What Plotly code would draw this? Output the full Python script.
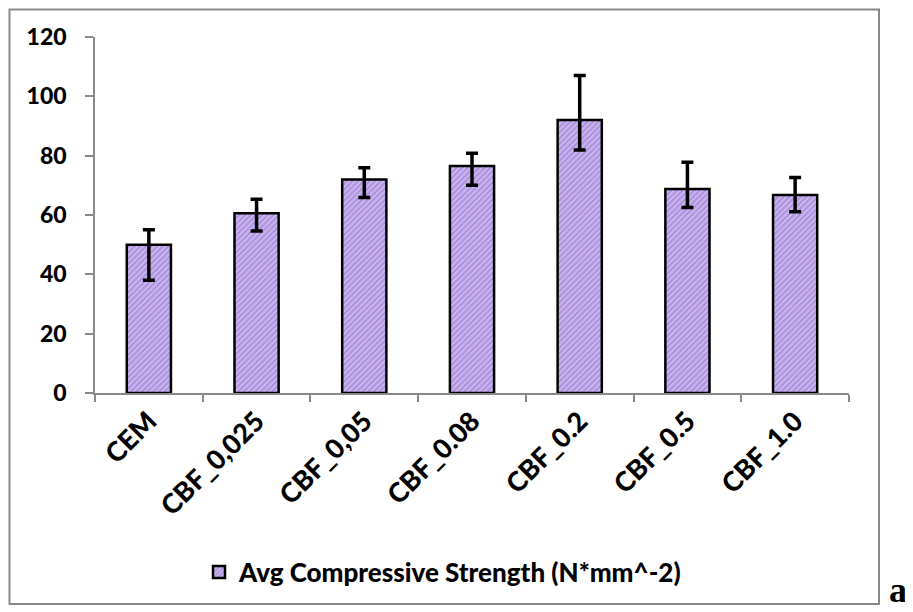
import plotly.graph_objects as go

categories = ["CEM", "CBF_0,025", "CBF_0,05", "CBF_0.08", "CBF_0.2", "CBF_0.5", "CBF_1.0"]
avg_strength = [50.0, 60.6, 72.0, 76.5, 92.0, 68.8, 66.7]
err_plus = [5.0, 4.7, 3.9, 4.3, 15.0, 9.0, 5.9]
err_minus = [12.0, 6.0, 6.1, 6.5, 10.1, 6.3, 5.6]
y_ticks = [0, 20, 40, 60, 80, 100, 120]
series_name = "Avg Compressive Strength (N*mm^-2)"

# page has an 8px body margin; work in figure pixels = page pixels - 8
OFF = 8
W, H = 913 - OFF, 612 - OFF
L, R, T, B = 95 - OFF, 849 - OFF, 37 - OFF, 393 - OFF

def px_x(p):
    return (p - OFF - L) / (R - L)

def px_y(p):
    return (B - (p - OFF)) / (B - T)

FONT = "Lato"
WEIGHT = 900

fig = go.Figure()
fig.add_trace(go.Bar(
    x=categories,
    y=avg_strength,
    name=series_name,
    width=0.41,
    marker=dict(
        color="#C4ADEC",
        line=dict(color="black", width=2.5),
        pattern=dict(shape="/", fgcolor="#8563C2", bgcolor="#CBB6F0", size=4, solidity=0.45),
    ),
    error_y=dict(type="data", symmetric=False, array=err_plus, arrayminus=err_minus,
                 color="black", thickness=3.5, width=6),
    showlegend=True,
))

fig.update_layout(
    width=W, height=H,
    margin=dict(l=L, r=W - R, t=T, b=H - B),
    paper_bgcolor="white", plot_bgcolor="white",
    font=dict(family=FONT, color="black"),
    xaxis=dict(
        showline=True, linecolor="#898989", linewidth=1.5,
        ticks="outside", ticklen=7, tickcolor="#898989", tickwidth=1.5,
        tickson="boundaries", tickangle=-45,
        tickfont=dict(family=FONT, size=27, weight=WEIGHT, color="black"),
        showgrid=False, range=[-0.5, 6.5],
    ),
    yaxis=dict(
        range=[0, 120], tickvals=y_ticks,
        showline=True, linecolor="#898989", linewidth=1.5,
        ticks="outside", ticklen=8, tickcolor="#898989", tickwidth=1.5,
        ticklabelstandoff=14,
        tickfont=dict(family=FONT, size=23, weight=WEIGHT, color="black"),
        showgrid=False, zeroline=False,
    ),
    legend=dict(
        orientation="h", x=px_x(443), y=px_y(572), xanchor="center", yanchor="middle",
        font=dict(family=FONT, size=26, weight=WEIGHT, color="black"),
        bgcolor="rgba(0,0,0,0)", itemwidth=30,
    ),
    shapes=[dict(type="rect", xref="paper", yref="paper",
                 x0=px_x(9.5), x1=px_x(879), y0=px_y(604), y1=px_y(9.5),
                 line=dict(color="#888888", width=2), fillcolor="rgba(0,0,0,0)")],
    annotations=[dict(text="a", xref="paper", yref="paper", x=px_x(909), y=px_y(590),
                      xanchor="right", yanchor="middle", showarrow=False,
                      font=dict(family="Liberation Serif", size=36, weight="bold", color="black"))],
)

fig.write_html("out.html")
